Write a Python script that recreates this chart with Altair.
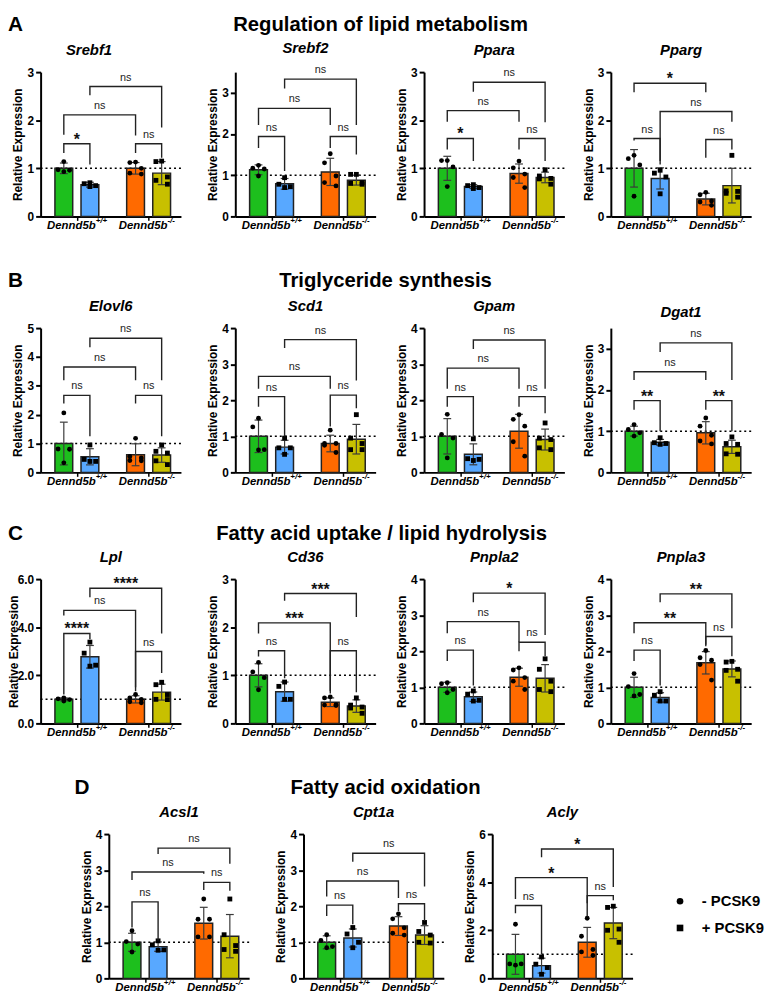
import altair as alt
import pandas as pd

# ---------------- data ----------------
SECTIONS = ["Regulation of lipid metabolism", "Triglyceride synthesis",
            "Fatty acid uptake / lipid hydrolysis", "Fatty acid oxidation"]
LETTERS = ["A", "B", "C", "D"]
ROW_GENES = [["Srebf1", "Srebf2", "Ppara", "Pparg"],
             ["Elovl6", "Scd1", "Gpam", "Dgat1"],
             ["Lpl", "Cd36", "Pnpla2", "Pnpla3"],
             ["Acsl1", "Cpt1a", "Acly"]]
GENOTYPE_MAIN = ["Dennd5b", "Dennd5b"]
GENOTYPE_SUP = ["+/+", "-/-"]
TREATMENTS = ["- PCSK9", "+ PCSK9"]
BAR_KEYS = ["wt_ctrl", "wt_pcsk9", "ko_ctrl", "ko_pcsk9"]
BAR_COLORS = ["#1DBF1D", "#58A8FF", "#FF6A00", "#C8C000"]

Y_MAX = {"Srebf1": 3, "Srebf2": 3.5, "Ppara": 3, "Pparg": 3,
         "Elovl6": 5, "Scd1": 4, "Gpam": 4, "Dgat1": 3.5,
         "Lpl": 6, "Cd36": 3, "Pnpla2": 4, "Pnpla3": 4,
         "Acsl1": 4, "Cpt1a": 4, "Acly": 6}
Y_TICKS = {"Srebf1": [0, 1, 2, 3], "Srebf2": [0, 1, 2, 3], "Ppara": [0, 1, 2, 3], "Pparg": [0, 1, 2, 3],
           "Elovl6": [0, 1, 2, 3, 4, 5], "Scd1": [0, 1, 2, 3, 4], "Gpam": [0, 1, 2, 3, 4], "Dgat1": [0, 1, 2, 3],
           "Lpl": [0, 2, 4, 6], "Cd36": [0, 1, 2, 3], "Pnpla2": [0, 1, 2, 3, 4], "Pnpla3": [0, 1, 2, 3, 4],
           "Acsl1": [0, 1, 2, 3, 4], "Cpt1a": [0, 1, 2, 3, 4], "Acly": [0, 2, 4, 6]}
Y_FMT = {"Lpl": ".1f"}

MEAN = {"Srebf1": [1.0, 0.66, 1.0, 0.9], "Srebf2": [1.13, 0.79, 1.08, 0.88],
        "Ppara": [1.0, 0.62, 0.89, 0.81], "Pparg": [1.0, 0.79, 0.36, 0.64],
        "Elovl6": [1.0, 0.54, 0.61, 0.6], "Scd1": [1.0, 0.7, 0.8, 0.92],
        "Gpam": [1.0, 0.5, 1.14, 0.91], "Dgat1": [1.0, 0.73, 0.96, 0.62],
        "Lpl": [1.0, 2.77, 1.0, 1.3], "Cd36": [1.0, 0.66, 0.44, 0.36],
        "Pnpla2": [1.0, 0.74, 1.28, 1.25], "Pnpla3": [1.0, 0.72, 1.68, 1.51],
        "Acsl1": [1.0, 0.88, 1.53, 1.17], "Cpt1a": [1.0, 1.12, 1.45, 1.2],
        "Acly": [1.0, 0.53, 1.5, 2.3]}
SD = {"Srebf1": [0.11, 0.05, 0.12, 0.24], "Srebf2": [0.12, 0.13, 0.33, 0.12],
      "Ppara": [0.25, 0.04, 0.2, 0.11], "Pparg": [0.39, 0.22, 0.12, 0.36],
      "Elovl6": [0.74, 0.28, 0.38, 0.25], "Scd1": [0.45, 0.19, 0.23, 0.41],
      "Gpam": [0.49, 0.29, 0.47, 0.29], "Dgat1": [0.12, 0.07, 0.27, 0.16],
      "Lpl": [0.06, 0.47, 0.15, 0.33], "Cd36": [0.24, 0.2, 0.09, 0.13],
      "Pnpla2": [0.14, 0.13, 0.25, 0.38], "Pnpla3": [0.28, 0.13, 0.31, 0.22],
      "Acsl1": [0.25, 0.13, 0.44, 0.6], "Cpt1a": [0.18, 0.25, 0.26, 0.26],
      "Acly": [0.83, 0.31, 0.62, 0.65]}
POINTS = {
    "Srebf1": [[1.14, 0.97, 0.96, 0.93], [0.70, 0.68, 0.64, 0.62], [1.13, 1.12, 1.0, 0.90, 0.88], [1.15, 1.14, 0.82, 0.75, 0.67]],
    "Srebf2": [[1.24, 1.17, 1.15, 0.98], [0.94, 0.78, 0.72, 0.70], [1.52, 1.30, 0.98, 0.82, 0.74], [1.02, 1.02, 0.82, 0.80, 0.78]],
    "Ppara": [[1.16, 1.16, 1.03, 0.62], [0.66, 0.64, 0.60, 0.58], [1.15, 1.01, 0.88, 0.81, 0.60], [0.97, 0.84, 0.79, 0.78, 0.67]],
    "Pparg": [[1.27, 1.20, 1.07, 0.42], [0.96, 0.90, 0.82, 0.47], [0.50, 0.45, 0.32, 0.30, 0.23], [1.27, 0.53, 0.52, 0.48, 0.40]],
    "Elovl6": [[2.06, 0.81, 0.80, 0.33], [0.95, 0.45, 0.38, 0.38], [1.18, 0.55, 0.50, 0.41, 0.40], [0.95, 0.73, 0.67, 0.40, 0.27]],
    "Scd1": [[1.50, 1.26, 0.63, 0.62], [0.95, 0.68, 0.68, 0.50], [1.17, 0.80, 0.80, 0.75, 0.55], [1.60, 0.95, 0.80, 0.63, 0.63]],
    "Gpam": [[1.61, 1.05, 0.95, 0.40], [0.93, 0.38, 0.36, 0.33], [1.60, 1.47, 1.28, 0.85, 0.45], [1.37, 0.95, 0.91, 0.68, 0.63]],
    "Dgat1": [[1.16, 1.04, 0.96, 0.88], [0.84, 0.72, 0.70, 0.68], [1.32, 1.12, 0.90, 0.76, 0.69], [0.86, 0.70, 0.68, 0.45, 0.44]],
    "Lpl": [[1.06, 1.02, 0.99, 0.93], [3.38, 2.92, 2.42, 2.38], [1.20, 1.06, 1.00, 0.90, 0.86], [1.71, 1.61, 1.20, 1.00, 0.99]],
    "Cd36": [[1.27, 1.07, 0.95, 0.70], [0.86, 0.77, 0.50, 0.50], [0.55, 0.53, 0.39, 0.38, 0.37], [0.53, 0.38, 0.34, 0.32, 0.21]],
    "Pnpla2": [[1.13, 1.10, 0.94, 0.85], [0.90, 0.81, 0.64, 0.62], [1.54, 1.48, 1.27, 1.17, 0.94], [1.79, 1.50, 1.17, 0.94, 0.88]],
    "Pnpla3": [[1.38, 1.02, 0.80, 0.76], [0.88, 0.78, 0.62, 0.62], [2.02, 1.82, 1.75, 1.63, 1.20], [1.72, 1.70, 1.50, 1.47, 1.17]],
    "Acsl1": [[1.32, 1.02, 0.95, 0.73], [1.04, 0.93, 0.79, 0.78], [2.20, 1.64, 1.64, 1.15, 1.15], [2.20, 1.21, 0.91, 0.80, 0.75]],
    "Cpt1a": [[1.21, 1.05, 0.88, 0.85], [1.41, 1.23, 1.00, 0.85], [1.79, 1.65, 1.40, 1.25, 1.20], [1.55, 1.30, 1.20, 1.00, 0.98]],
    "Acly": [[2.25, 0.60, 0.60, 0.55], [0.89, 0.59, 0.45, 0.17], [2.50, 1.75, 1.20, 1.10, 0.95], [3.00, 2.95, 2.05, 2.00, 1.50]],
}
# (bar i, bar j, bracket height, left leg end, right leg end, label)
SIG = {
    "Srebf1": [(0, 1, 1.51, 1.32, 1.08, "*"), (2, 3, 1.51, 1.32, 1.22, "ns"), (0, 2, 2.11, 1.70, 1.68, "ns"), (1, 3, 2.70, 2.52, 1.85, "ns")],
    "Srebf2": [(0, 1, 1.94, 1.66, 1.10, "ns"), (2, 3, 1.94, 1.66, 1.50, "ns"), (0, 2, 2.62, 2.22, 2.22, "ns"), (1, 3, 3.33, 3.10, 2.22, "ns")],
    "Ppara": [(0, 1, 1.62, 1.39, 1.15, "*"), (2, 3, 1.62, 1.39, 1.15, "ns"), (0, 2, 2.20, 1.97, 1.97, "ns"), (1, 3, 2.79, 2.59, 1.96, "ns")],
    "Pparg": [(0, 1, 1.62, 1.58, 1.08, "ns"), (2, 3, 1.60, 1.22, 1.39, "ns"), (1, 3, 2.18, 1.15, 1.97, "ns"), (0, 2, 2.77, 2.58, 2.58, "*")],
    "Elovl6": [(0, 1, 2.67, 2.39, 1.25, "ns"), (2, 3, 2.67, 2.39, 1.25, "ns"), (0, 2, 3.65, 3.19, 3.19, "ns"), (1, 3, 4.65, 4.34, 3.19, "ns")],
    "Scd1": [(0, 1, 2.10, 1.82, 1.00, "ns"), (2, 3, 2.14, 1.27, 1.78, "ns"), (0, 2, 2.66, 2.32, 2.32, "ns"), (1, 3, 3.68, 3.45, 2.55, "ns")],
    "Gpam": [(0, 1, 2.10, 1.82, 1.00, "ns"), (2, 3, 2.10, 1.82, 1.64, "ns"), (0, 2, 2.89, 2.32, 2.32, "ns"), (1, 3, 3.67, 3.42, 2.32, "ns")],
    "Dgat1": [(0, 1, 1.74, 1.52, 1.00, "**"), (2, 3, 1.74, 1.52, 1.00, "**"), (0, 2, 2.44, 2.24, 2.24, "ns"), (1, 3, 3.14, 2.92, 2.24, "ns")],
    "Lpl": [(0, 1, 3.74, 1.20, 3.50, "****"), (2, 3, 2.99, 1.34, 2.10, "ns"), (0, 2, 4.70, 4.49, 1.50, "ns"), (1, 3, 5.62, 5.25, 3.74, "****")],
    "Cd36": [(0, 1, 1.51, 1.39, 0.94, "ns"), (2, 3, 1.51, 0.67, 0.65, "ns"), (0, 2, 2.09, 1.87, 0.62, "***"), (1, 3, 2.70, 2.55, 2.21, "***")],
    "Pnpla2": [(0, 1, 2.03, 1.73, 1.05, "ns"), (2, 3, 2.25, 2.00, 1.86, "ns"), (0, 2, 2.82, 2.50, 2.25, "ns"), (1, 3, 3.61, 3.36, 2.45, "*")],
    "Pnpla3": [(0, 1, 2.03, 1.73, 1.05, "ns"), (2, 3, 2.41, 2.18, 1.86, "ns"), (0, 2, 2.79, 2.50, 2.14, "**"), (1, 3, 3.59, 3.36, 2.64, "**")],
    "Acsl1": [(0, 1, 2.12, 1.41, 1.05, "ns"), (2, 3, 2.66, 2.45, 2.43, "ns"), (0, 2, 2.95, 2.73, 2.90, "ns"), (1, 3, 3.61, 3.45, 3.18, "ns")],
    "Cpt1a": [(0, 1, 2.03, 1.73, 1.50, "ns"), (2, 3, 2.07, 1.86, 1.59, "ns"), (0, 2, 2.70, 2.27, 2.23, "ns"), (1, 3, 3.47, 3.23, 2.55, "ns")],
    "Acly": [(0, 1, 3.03, 2.71, 1.00, "ns"), (2, 3, 3.44, 3.12, 3.25, "ns"), (0, 2, 4.19, 3.30, 2.57, "*"), (1, 3, 5.38, 5.04, 3.80, "*")],
}

# ---------------- layout / style ----------------
POS = [0.0, 1.0, 2.75, 3.75]        # bar centres on the x scale
GROUP_X = [0.5, 3.25]
X_DOMAIN = [-0.7, 4.3]
W, H = 142, 146
FONT = "Liberation Sans"
INK = "#222222"
JITTER = {4: [0, -1, 1, 0], 5: [0, -1, 1, -1, 1]}
TITLE_DX = {"Srebf1": -22}
YTITLE_X = {"Lpl": -27}
LEFT_EXTENT = -33
RIGHT_PAD = [9.5, 3.5, 1.5, 0.5]
PANEL_SPACING = 12
ROW_SPACING = 6
SPACER_W = 24
HEADER_H = [20, 20, 20, 20]
HEADER_TEXT_Y = [10, 7, 11, 8]
HEADER_TOP_GUIDE = [None, -36, -29, -35]
HEADER_TITLE_X = [344, 349, 345, 349]
HEADER_LETTER_X = [-25.4, -25.4, -25.4, 42]
LEGEND_ROWS_Y = [68, 95]
LEGEND_SYMBOL_X = 34
LEGEND_TEXT_X = 56

SHAPE_SCALE = alt.Scale(domain=TREATMENTS, range=["circle", "square"])


def guide(x1, x2, y):
    return alt.Chart(pd.DataFrame({"g": [0]})).mark_rule(strokeOpacity=0, opacity=0).encode(
        x=alt.value(x1), x2=alt.value(x2), y=alt.value(y))


def panel(gene, k):
    xscale = alt.Scale(domain=X_DOMAIN, nice=False, zero=False)
    yscale = alt.Scale(domain=[0, Y_MAX[gene]], nice=False, zero=True)
    xaxis = alt.Axis(values=GROUP_X, labels=False, title=None, grid=False,
                     tickSize=4, tickWidth=1.5, tickColor="black",
                     domainColor="black", domainWidth=2)
    yaxis = alt.Axis(values=Y_TICKS[gene], format=Y_FMT.get(gene, "d"),
                     title="Relative Expression", grid=False,
                     titleFont=FONT, titleFontSize=12, titleFontWeight="bold",
                     titleColor="black", titleX=YTITLE_X.get(gene, -23),
                     titleY=H / 2, titleAngle=270, titleAlign="center",
                     titleBaseline="middle",
                     labelFont=FONT, labelFontSize=12, labelFontWeight="bold",
                     labelColor="black", labelPadding=2,
                     tickSize=5, tickWidth=2, tickColor="black",
                     domainColor="black", domainWidth=2)

    def X(f):
        return alt.X(f"{f}:Q", scale=xscale, axis=xaxis)

    def Y(f):
        return alt.Y(f"{f}:Q", scale=yscale, axis=yaxis)

    m, s = MEAN[gene], SD[gene]
    bars = pd.DataFrame({"x": POS, "mean": m, "bar": BAR_KEYS,
                         "lo": [a - b for a, b in zip(m, s)],
                         "hi": [a + b for a, b in zip(m, s)]})
    caps = pd.DataFrame({"cx1": [p - 0.15 for p in POS] * 2,
                         "cx2": [p + 0.15 for p in POS] * 2,
                         "cy": list(bars["hi"]) + list(bars["lo"])})
    prow = []
    for i, vals in enumerate(POINTS[gene]):
        pat = JITTER[len(vals)]
        for j, v in enumerate(vals):
            prow.append({"px": POS[i] + 0.22 * pat[j], "val": v,
                         "treat": TREATMENTS[i % 2]})
    pts = pd.DataFrame(prow)
    brow, lrow = [], []
    for b, (i, j, top, le, re, lab) in enumerate(SIG[gene]):
        for o, (xx, yy) in enumerate([(POS[i], le), (POS[i], top), (POS[j], top), (POS[j], re)]):
            brow.append({"bid": b, "ord": o, "bx": xx, "by": yy})
        lrow.append({"mx": (POS[i] + POS[j]) / 2, "top": top, "label": lab})
    brk = pd.DataFrame(brow)
    labs = pd.DataFrame(lrow)
    glab = pd.DataFrame({"gx": GROUP_X, "main": GENOTYPE_MAIN, "sup": GENOTYPE_SUP})

    ref = alt.Chart(pd.DataFrame({"ref": [1.0]})).mark_rule(
        color="black", strokeDash=[2, 3], strokeWidth=1.5).encode(y=Y("ref"))
    bar = alt.Chart(bars).mark_bar(size=18, stroke=INK, strokeWidth=1.5).encode(
        x=X("x"), y=Y("mean"),
        color=alt.Color("bar:N", scale=alt.Scale(domain=BAR_KEYS, range=BAR_COLORS), legend=None))
    err = alt.Chart(bars).mark_rule(color="#3a3a3a", strokeWidth=1.2).encode(
        x=X("x"), y=Y("lo"), y2="hi:Q")
    cap = alt.Chart(caps).mark_rule(color="#3a3a3a", strokeWidth=1.2).encode(
        x=X("cx1"), x2="cx2:Q", y=Y("cy"))
    dots = alt.Chart(pts).mark_point(filled=True, size=24, color="black", opacity=1).encode(
        x=X("px"), y=Y("val"),
        shape=alt.Shape("treat:N", scale=SHAPE_SCALE, legend=None))
    brackets = alt.Chart(brk).mark_line(color=INK, strokeWidth=1.4, strokeJoin="miter").encode(
        x=X("bx"), y=Y("by"), detail="bid:N", order="ord:Q")
    ns_text = alt.Chart(labs).transform_filter(alt.datum.label == "ns").mark_text(
        font=FONT, fontSize=11, color="#222", baseline="alphabetic", dy=-6).encode(
        x=X("mx"), y=Y("top"), text="label:N")
    star_text = alt.Chart(labs).transform_filter(alt.datum.label != "ns").mark_text(
        font=FONT, fontSize=16, fontWeight="bold", color="#111", baseline="alphabetic", dy=1).encode(
        x=X("mx"), y=Y("top"), text="label:N")
    xmain = alt.Chart(glab).mark_text(
        font=FONT, fontSize=11.5, fontWeight="bold", fontStyle="italic", color="black",
        align="right", baseline="alphabetic", dx=19).encode(
        x=X("gx"), y=alt.value(H + 13), text="main:N")
    xsup = alt.Chart(glab).mark_text(
        font=FONT, fontSize=8, fontWeight="bold", fontStyle="italic", color="black",
        align="left", baseline="alphabetic", dx=19, dy=-6).encode(
        x=X("gx"), y=alt.value(H + 13), text="sup:N")

    layers = [ref, bar, err, cap, dots, brackets, ns_text, star_text, xmain, xsup,
              guide(LEFT_EXTENT, LEFT_EXTENT + 2, H / 2),
              guide(W + RIGHT_PAD[k] - 2, W + RIGHT_PAD[k], H / 2)]
    return alt.layer(*layers).properties(
        width=W, height=H,
        title=alt.Title(gene, font=FONT, fontSize=15, fontWeight="bold", fontStyle="italic",
                        color="black", anchor="middle", frame="group", offset=8,
                        dx=TITLE_DX.get(gene, 0)))


def legend_cell():
    df = pd.DataFrame({"treat": TREATMENTS})
    yenc = alt.Y("treat:N", axis=None,
                 scale=alt.Scale(type="point", domain=TREATMENTS, range=LEGEND_ROWS_Y, padding=0))
    sym = alt.Chart(df).mark_point(filled=True, size=45, color="black", opacity=1).encode(
        x=alt.value(LEGEND_SYMBOL_X), y=yenc,
        shape=alt.Shape("treat:N", scale=SHAPE_SCALE, legend=None))
    txt = alt.Chart(df).mark_text(font=FONT, fontSize=15, fontWeight="bold", color="black",
                                  align="left", baseline="middle").encode(
        x=alt.value(LEGEND_TEXT_X), y=yenc, text="treat:N")
    return alt.layer(sym, txt).properties(width=40, height=H)


def header(r):
    ty = HEADER_TEXT_Y[r]
    df = pd.DataFrame({"letter": [LETTERS[r]], "section": [SECTIONS[r]]})
    base = alt.Chart(df)
    letter = base.mark_text(font=FONT, fontSize=21, fontWeight="bold", color="black",
                            align="center", baseline="middle").encode(
        x=alt.value(HEADER_LETTER_X[r]), y=alt.value(ty), text="letter:N")
    title = base.mark_text(font=FONT, fontSize=20.5, fontWeight="bold", color="black",
                           align="center", baseline="middle").encode(
        x=alt.value(HEADER_TITLE_X[r]), y=alt.value(ty), text="section:N")
    layers = [letter, title]
    if HEADER_TOP_GUIDE[r] is not None:
        layers.append(guide(0, 2, HEADER_TOP_GUIDE[r]))
    return alt.layer(*layers).properties(width=700, height=HEADER_H[r])


cells = []
for r, genes in enumerate(ROW_GENES):
    panels = [panel(g, k) for k, g in enumerate(genes)]
    if r == 3:
        spacer = alt.Chart(pd.DataFrame({"s": [0]})).mark_rule(strokeOpacity=0, opacity=0).encode(
            x=alt.value(0), x2=alt.value(SPACER_W), y=alt.value(H / 2)
        ).properties(width=SPACER_W, height=H)
        panels = [spacer] + panels + [legend_cell()]
    cells.append(header(r))
    cells.append(alt.hconcat(*panels, spacing=PANEL_SPACING))

chart = alt.vconcat(*cells, spacing=ROW_SPACING).properties(
    padding={"left": 0, "top": 0, "right": 2, "bottom": 0}
).configure(font=FONT).configure_view(stroke=None)

chart.save("out.html", embed_options={"renderer": "svg", "actions": False})
